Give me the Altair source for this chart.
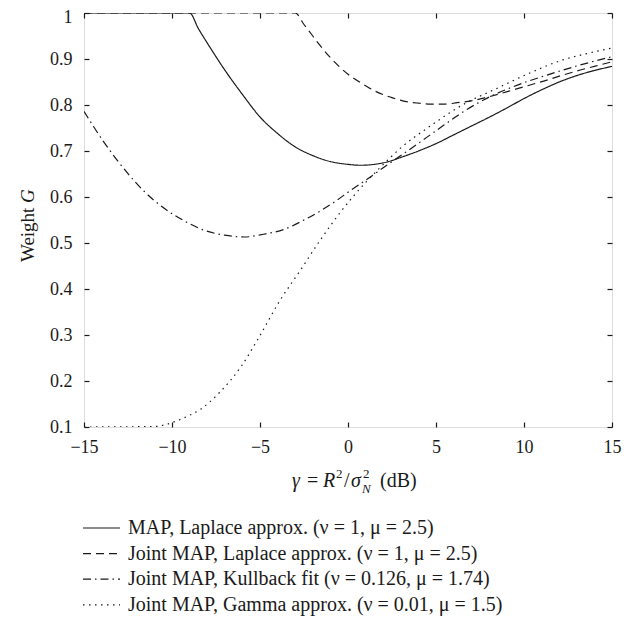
import altair as alt
import pandas as pd

FONT = "Liberation Serif"
INK = "#1a1a1a"

# ---- data ----
names = [
    "MAP, Laplace approx. (ν = 1, μ = 2.5)",
    "Joint MAP, Laplace approx. (ν = 1, μ = 2.5)",
    "Joint MAP, Kullback fit (ν = 0.126, μ = 1.74)",
    "Joint MAP, Gamma approx. (ν = 0.01, μ = 1.5)",
]

x_map = [-15, -9, -8.5, -8, -7, -6, -5, -4, -3, -2, -1, 0, 0.7, 1.5, 2.3, 3, 4, 5, 6, 7, 8, 9, 10, 11, 12, 13, 14, 15]
g_map = [1.0, 1.0, 0.966, 0.935, 0.876, 0.823, 0.774, 0.738, 0.709, 0.690, 0.677, 0.671, 0.669, 0.671, 0.677, 0.686,
         0.700, 0.716, 0.735, 0.754, 0.773, 0.793, 0.814, 0.833, 0.850, 0.864, 0.875, 0.884]

x_joint = [-15, -3, -2.5, -2, -1.6, -1, 0, 1, 1.6, 2.5, 3.1, 4, 4.7, 5.5, 6.2, 7, 7.7, 8.5, 9.4, 10.3, 11.3, 12.2, 13.2, 14.1, 15]
g_joint = [1.0, 1.0, 0.975, 0.950, 0.930, 0.903, 0.867, 0.842, 0.829, 0.816, 0.809, 0.804, 0.802, 0.802, 0.805,
           0.809, 0.815, 0.823, 0.833, 0.843, 0.854, 0.865, 0.876, 0.885, 0.894]

x_kull = [-15, -13.9, -12.7, -11.6, -10.5, -9.3, -8.2, -7.0, -5.9, -4.8, -3.6, -2.6, -1.6, -0.7, 0.1, 1.25, 2.2,
          3.0, 3.9, 5, 6.5, 7.7, 9.4, 11.3, 13.2, 15]
g_kull = [0.786, 0.721, 0.660, 0.613, 0.577, 0.548, 0.528, 0.517, 0.513, 0.519, 0.530, 0.548, 0.569, 0.591, 0.613,
          0.643, 0.669, 0.690, 0.714, 0.744, 0.784, 0.811, 0.840, 0.865, 0.887, 0.905]

x_gamma = [-15, -11, -10.3, -9.2, -8.4, -7.3, -6.1, -5.0, -3.9, -2.7, -1.6, -0.45, 1.06, 1.8, 3.1, 4.7,
           6.5, 8.45, 10.3, 12.2, 13.6, 15]
g_gamma = [0.1, 0.101, 0.106, 0.122, 0.138, 0.175, 0.230, 0.299, 0.373, 0.441, 0.505, 0.566, 0.634, 0.663,
           0.710, 0.755, 0.800, 0.836, 0.869, 0.898, 0.912, 0.924]

x_ticks = [-15, -10, -5, 0, 5, 10, 15]
y_ticks = [0.1, 0.2, 0.3, 0.4, 0.5, 0.6, 0.7, 0.8, 0.9, 1.0]

dashes = [[1, 0], [8, 5], [8, 4, 1.5, 4], [1.5, 4.5]]

rows = []
for name, xs, gs in zip(names, [x_map, x_joint, x_kull, x_gamma], [g_map, g_joint, g_kull, g_gamma]):
    for xv, gv in zip(xs, gs):
        rows.append({"series": name, "x": xv, "G": gv})
df = pd.DataFrame(rows)

dash_scale = alt.Scale(domain=names, range=dashes)
xscale = alt.Scale(domain=[-15, 15], nice=False, zero=False)
yscale = alt.Scale(domain=[0.1, 1.0], nice=False, zero=False)

axis_common = dict(offset=-5, tickSize=5, domain=False, grid=False, title=None, labelFlush=False,
                   labelFont=FONT, labelFontSize=18, labelColor=INK, tickColor=INK, tickWidth=1.2)

lines = alt.Chart(df).mark_line(strokeWidth=1.2, color=INK, clip=True, interpolate="monotone").encode(
    x=alt.X("x:Q", scale=xscale,
            axis=alt.Axis(values=x_ticks, orient="bottom", format="d", labelPadding=11,
                          labelExpr="replace(datum.label, '-', '\u2212')", **axis_common)),
    y=alt.Y("G:Q", scale=yscale,
            axis=alt.Axis(values=y_ticks, orient="left", labelPadding=12,
                          labelOffset={"condition": {"test": "datum.value >= 0.99", "value": 4}, "value": 0},
                          labelExpr="datum.value >= 0.99 ? '1' : format(datum.value, '.1f')", **axis_common)),
    strokeDash=alt.StrokeDash("series:N", scale=dash_scale, legend=None),
    order=alt.Order("x:Q"),
)

mirror = alt.Chart(df).mark_line(opacity=0).encode(
    x=alt.X("x:Q", scale=xscale, axis=alt.Axis(values=x_ticks, orient="top", labels=False, **axis_common)),
    y=alt.Y("G:Q", scale=yscale, axis=alt.Axis(values=y_ticks, orient="right", labels=False, **axis_common)),
    detail="series:N",
)

# legend built from the series list
leg_df = pd.DataFrame({"series": names, "row": list(range(len(names)))})
leg_base = alt.Chart(leg_df).transform_calculate(ypix="515 + 25.6 * datum.row")
leg_rules = leg_base.mark_rule(strokeWidth=1.2, color=INK).encode(
    x=alt.value(-1), x2=alt.value(36),
    y=alt.Y("ypix:Q", scale=None, axis=None),
    strokeDash=alt.StrokeDash("series:N", scale=dash_scale, legend=None),
)
leg_text = leg_base.mark_text(align="left", baseline="middle", font=FONT, fontSize=20, color=INK).encode(
    x=alt.value(44), y=alt.Y("ypix:Q", scale=None, axis=None), text="series:N",
)

one = pd.DataFrame({"k": [0]})


def txt(s, x, y, size=20, italic=False, angle=0, baseline="alphabetic"):
    kw = dict(align="left", baseline=baseline, font=FONT, fontSize=size, color=INK, text=s)
    if italic:
        kw["fontStyle"] = "italic"
    if angle:
        kw["angle"] = angle
    return alt.Chart(one).mark_text(**kw).encode(x=alt.value(x), y=alt.value(y))


title_y = 474
titles = [
    txt("γ", 208, title_y, italic=True),
    txt("=", 223, title_y),
    txt("R", 239, title_y, italic=True),
    txt("2", 252, title_y - 9, size=13),
    txt("/", 260, title_y),
    txt("σ", 267, title_y, italic=True),
    txt("2", 279, title_y - 9, size=13),
    txt("N", 278, title_y + 6, size=13, italic=True),
    txt("(dB)", 296, title_y),
    txt("Weight", -56, 249, size=19, angle=270, baseline="middle"),
    txt("G", -56, 190, size=19, angle=270, baseline="middle", italic=True),
]

chart = alt.layer(lines, mirror, leg_rules, leg_text, *titles).resolve_axis(
    x="independent", y="independent"
).properties(
    width=528, height=414,
    autosize=alt.AutoSizeParams(type="none"),
    padding={"left": 76, "top": 5, "right": 16, "bottom": 190},
).configure_view(stroke=INK, strokeWidth=1.3).configure(background="white")

chart.save("out.html", embed_options={"renderer": "svg", "actions": False})
